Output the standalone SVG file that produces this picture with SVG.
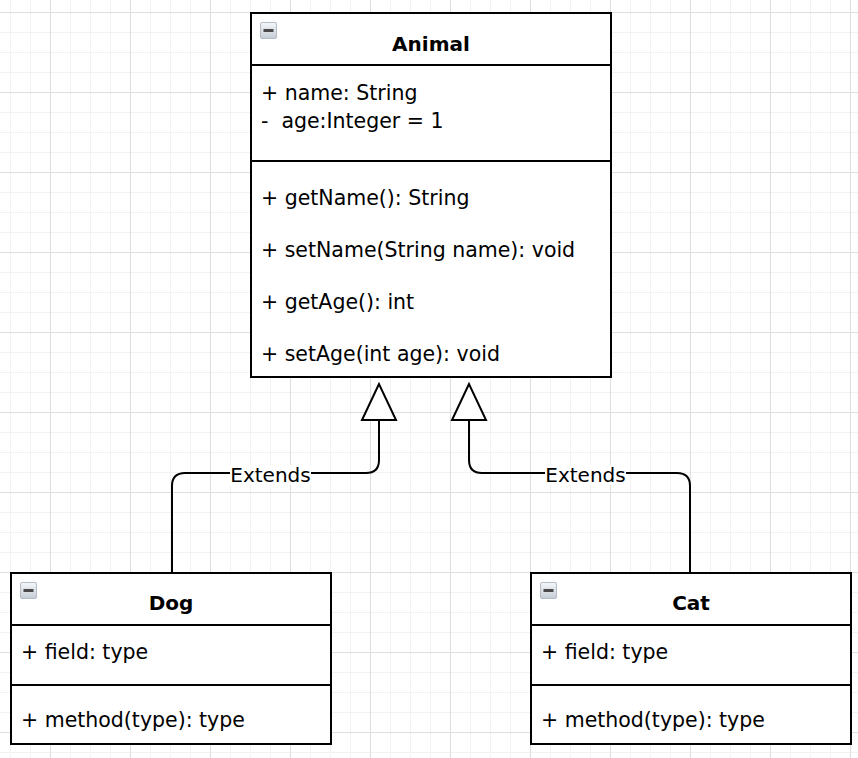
<svg xmlns="http://www.w3.org/2000/svg" width="858" height="758" viewBox="0 0 858 758">
  <defs>
    <pattern id="grid" patternUnits="userSpaceOnUse" x="50" y="12" width="80" height="80">
      <rect x="0" y="0" width="80" height="80" fill="#ffffff"/>
      <rect x="20" y="0" width="1" height="80" fill="#f2f2f2"/>
      <rect x="40" y="0" width="1" height="80" fill="#f2f2f2"/>
      <rect x="60" y="0" width="1" height="80" fill="#f2f2f2"/>
      <rect x="0" y="20" width="80" height="1" fill="#f2f2f2"/>
      <rect x="0" y="40" width="80" height="1" fill="#f2f2f2"/>
      <rect x="0" y="60" width="80" height="1" fill="#f2f2f2"/>
      <rect x="0" y="0" width="1" height="80" fill="#dedede"/>
      <rect x="0" y="0" width="80" height="1" fill="#dedede"/>
    </pattern>
    <linearGradient id="iconGrad" x1="0" y1="0" x2="0" y2="1">
      <stop offset="0" stop-color="#f6f8fa"/>
      <stop offset="1" stop-color="#c4ccd5"/>
    </linearGradient>
    <g id="collapse">
      <rect x="0.5" y="0.5" width="16" height="16" rx="1.5" fill="url(#iconGrad)" stroke="#b4bcc6" stroke-width="1"/>
      <rect x="3.5" y="7" width="10" height="3" fill="#4a4a4a"/>
    </g>
  </defs>
  <style>
    .box { fill: #ffffff; stroke: #000000; stroke-width: 2; }
    .sep { stroke: #000000; stroke-width: 2; fill: none; }
    .title { font-family: "DejaVu Sans", "Liberation Sans", sans-serif; font-size: 20px; font-weight: bold; fill: #000000; text-anchor: middle; }
    .member { font-family: "DejaVu Sans", "Liberation Sans", sans-serif; font-size: 20.5px; fill: #000000; }
    .label { font-family: "DejaVu Sans", "Liberation Sans", sans-serif; font-size: 20px; fill: #000000; text-anchor: middle; }
    .edge { fill: none; stroke: #000000; stroke-width: 2; }
    .head { fill: #ffffff; stroke: #000000; stroke-width: 2; stroke-linejoin: miter; }
    .lblbg { fill: #ffffff; }
  </style>

  <rect x="0" y="0" width="858" height="758" fill="url(#grid)"/>

  <g id="connectors">
    <path class="edge" d="M172,573 V486 Q172,473 185,473 H366 Q379,473 379,460 V420"/>
    <polygon class="head" points="379,384 362,420 396,420"/>
    <rect class="lblbg" x="230" y="465" width="81" height="20"/>
    <text class="label" x="270.5" y="481.5">Extends</text>

    <path class="edge" d="M690,573 V486 Q690,473 677,473 H482 Q469,473 469,460 V420"/>
    <polygon class="head" points="469,384 452,420 486,420"/>
    <rect class="lblbg" x="545" y="465" width="81" height="20"/>
    <text class="label" x="585.5" y="481.5">Extends</text>
  </g>

  <g id="animal">
    <rect class="box" x="251" y="13" width="360" height="364"/>
    <line class="sep" x1="251" y1="65" x2="611" y2="65"/>
    <line class="sep" x1="251" y1="161" x2="611" y2="161"/>
    <use href="#collapse" x="260" y="22"/>
    <text class="title" x="431" y="51">Animal</text>
    <text class="member" x="261" y="100">+ name: String</text>
    <text class="member" x="261" y="128" xml:space="preserve">-  age:Integer = 1</text>
    <text class="member" x="261" y="205">+ getName(): String</text>
    <text class="member" x="261" y="257">+ setName(String name): void</text>
    <text class="member" x="261" y="309">+ getAge(): int</text>
    <text class="member" x="261" y="361">+ setAge(int age): void</text>
  </g>

  <g id="dog">
    <rect class="box" x="11" y="573" width="320" height="171"/>
    <line class="sep" x1="11" y1="625" x2="331" y2="625"/>
    <line class="sep" x1="11" y1="685" x2="331" y2="685"/>
    <use href="#collapse" x="20" y="582"/>
    <text class="title" x="171" y="610">Dog</text>
    <text class="member" x="21" y="659">+ field: type</text>
    <text class="member" x="21" y="727">+ method(type): type</text>
  </g>

  <g id="cat">
    <rect class="box" x="531" y="573" width="320" height="171"/>
    <line class="sep" x1="531" y1="625" x2="851" y2="625"/>
    <line class="sep" x1="531" y1="685" x2="851" y2="685"/>
    <use href="#collapse" x="540" y="582"/>
    <text class="title" x="691" y="610">Cat</text>
    <text class="member" x="541" y="659">+ field: type</text>
    <text class="member" x="541" y="727">+ method(type): type</text>
  </g>
</svg>
